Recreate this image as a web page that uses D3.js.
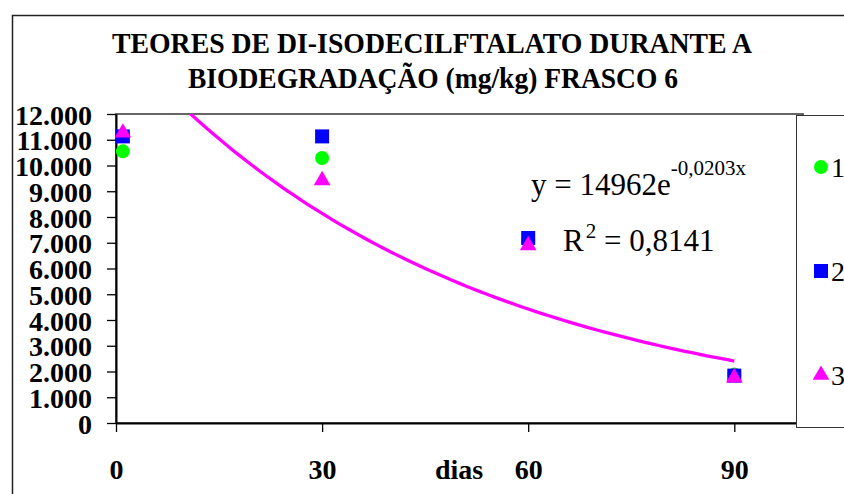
<!DOCTYPE html>
<html><head><meta charset="utf-8">
<script src="https://cdn.jsdelivr.net/npm/d3@7"></script>
<style>
html,body{margin:0;padding:0;background:#fff;}
svg{display:block;}
svg text{font-family:"Liberation Serif","Times New Roman",Tinos,"DejaVu Serif",Times,serif !important;}
</style></head>
<body>
<script>
// ---- data ----
const titleLines = ["TEORES DE DI-ISODECILFTALATO DURANTE A", "BIODEGRADAÇÃO (mg/kg) FRASCO 6"];
const days = [1, 30, 60, 90];
const series1 = [10550, 10290, 7050, 1880];   // circles (green)
const series2 = [11130, 11130, 7185, 1840];   // squares (blue)
const series3 = [11270, 9420, 6900, 1760];    // triangles (magenta)
const seriesNames = ["1", "2", "3"];
const xTicks = [0, 30, 60, 90];
const yTicks = [0,1000,2000,3000,4000,5000,6000,7000,8000,9000,10000,11000,12000];
const trendA = 14962, trendB = -0.0203;   // y = 14962e^(-0,0203x)
const trendDays = d3.range(0, 91, 1);
const eqText = ["y = 14962e", "-0,0203x"];
const r2Text = ["R", "2", " = 0,8141"];
const xTitle = "dias";

const FONT = '"Liberation Serif","Times New Roman",Tinos,"DejaVu Serif",Times,serif';
const W = 844, H = 494;
const svg = d3.select("body").append("svg").attr("width", W).attr("height", H)
  .attr("font-family", FONT);

// outer chart border
svg.append("rect").attr("x", 12.5).attr("y", 15.5).attr("width", 900).attr("height", 600)
  .attr("fill", "#fff").attr("stroke", "#222").attr("stroke-width", 1.5);

// title
const titleY = [53, 88], titleW = [640, 490], titleX = [432, 433];
titleLines.forEach((t, i) => {
  svg.append("text").attr("x", titleX[i]).attr("y", titleY[i]).attr("text-anchor", "middle")
    .attr("font-weight", "bold").attr("font-size", 30)
    .attr("textLength", titleW[i]).attr("lengthAdjust", "spacingAndGlyphs").text(t);
});

const x = d3.scaleLinear().domain([0, 100]).range([116, 803]);
const y = d3.scaleLinear().domain([0, 12000]).range([423, 114]);

// plot area border
svg.append("rect").attr("x", x(0)).attr("y", y(12000)).attr("width", x(100) - x(0)).attr("height", y(0) - y(12000))
  .attr("fill", "none").attr("stroke", "#333").attr("stroke-width", 1.5);

const loc = d3.formatLocale({decimal: ",", thousands: ".", grouping: [3], currency: ["", ""]});
const yAxis = d3.axisLeft(y).tickValues(yTicks).tickFormat(loc.format(",")).tickSize(9).tickSizeOuter(0);
const gy = svg.append("g").attr("transform", `translate(${x(0)},0)`).call(yAxis);
gy.attr("font-family", FONT);
gy.select(".domain").attr("stroke", "#000").attr("stroke-width", 2);
gy.selectAll(".tick line").attr("stroke", "#000").attr("stroke-width", 1.3);
gy.selectAll(".tick text").attr("font-weight", "bold")
  .attr("font-size", 28).attr("fill", "#000").attr("dy", "0.36em").attr("x", -24);

const xAxis = d3.axisBottom(x).tickValues(xTicks).tickFormat(d3.format("d")).tickSize(9).tickSizeOuter(0);
const gx = svg.append("g").attr("transform", `translate(0,${y(0)})`).call(xAxis);
gx.attr("font-family", FONT);
gx.select(".domain").attr("stroke", "#000").attr("stroke-width", 2);
gx.selectAll(".tick line").attr("stroke", "#000").attr("stroke-width", 1.3);
gx.selectAll(".tick text").attr("font-weight", "bold")
  .attr("font-size", 28).attr("fill", "#000").attr("dy", 0).attr("y", 56);

svg.append("text").attr("x", 459).attr("y", 479).attr("text-anchor", "middle")
  .attr("font-weight", "bold").attr("font-size", 28).text(xTitle);

// trendline
svg.append("clipPath").attr("id", "clip").append("rect")
  .attr("x", x(0)).attr("y", y(12000)).attr("width", x(100) - x(0)).attr("height", y(0) - y(12000));
const line = d3.line().x(d => x(d)).y(d => y(trendA * Math.exp(trendB * d)));
svg.append("path").datum(trendDays).attr("d", line).attr("clip-path", "url(#clip)")
  .attr("fill", "none").attr("stroke", "#ff00ff").attr("stroke-width", 3.3);

// markers
const sym = {
  circle: d3.symbol().type(d3.symbolCircle).size(154),
  square: d3.symbol().type(d3.symbolSquare).size(196),
  triangle: d3.symbol().type(d3.symbolTriangle).size(120)
};
const seriesDefs = [
  {vals: series1, shape: "circle", color: "#00ff00"},
  {vals: series2, shape: "square", color: "#0000ff"},
  {vals: series3, shape: "triangle", color: "#ff00ff"}
];
seriesDefs.forEach(s => {
  svg.append("g").selectAll("path").data(days.map((d, i) => [d, s.vals[i]])).join("path")
    .attr("d", sym[s.shape]).attr("fill", s.color)
    .attr("transform", d => `translate(${x(d[0])},${y(d[1])})`);
});

// equation labels
const eq = svg.append("text").attr("x", 531).attr("y", 195).attr("font-size", 31);
eq.append("tspan").text(eqText[0]);
eq.append("tspan").attr("font-size", 21).attr("dy", -20).text(eqText[1]);
const r2 = svg.append("text").attr("x", 563).attr("y", 251).attr("font-size", 31);
r2.append("tspan").text(r2Text[0]);
r2.append("tspan").attr("font-size", 21).attr("dx", 2).attr("dy", -13).text(r2Text[1]);
r2.append("tspan").attr("dy", 13).text(r2Text[2]);

// legend
svg.append("rect").attr("x", 796.5).attr("y", 115.5).attr("width", 100).attr("height", 312)
  .attr("fill", "#fff").attr("stroke", "#333").attr("stroke-width", 1);
const legY = [167, 271, 375];
seriesDefs.forEach((s, i) => {
  svg.append("path").attr("d", sym[s.shape]).attr("fill", s.color)
    .attr("transform", `translate(821,${legY[i]})`);
  svg.append("text").attr("x", 831).attr("y", legY[i] + 10).attr("font-size", 28).text(seriesNames[i]);
});
</script>
</body></html>
